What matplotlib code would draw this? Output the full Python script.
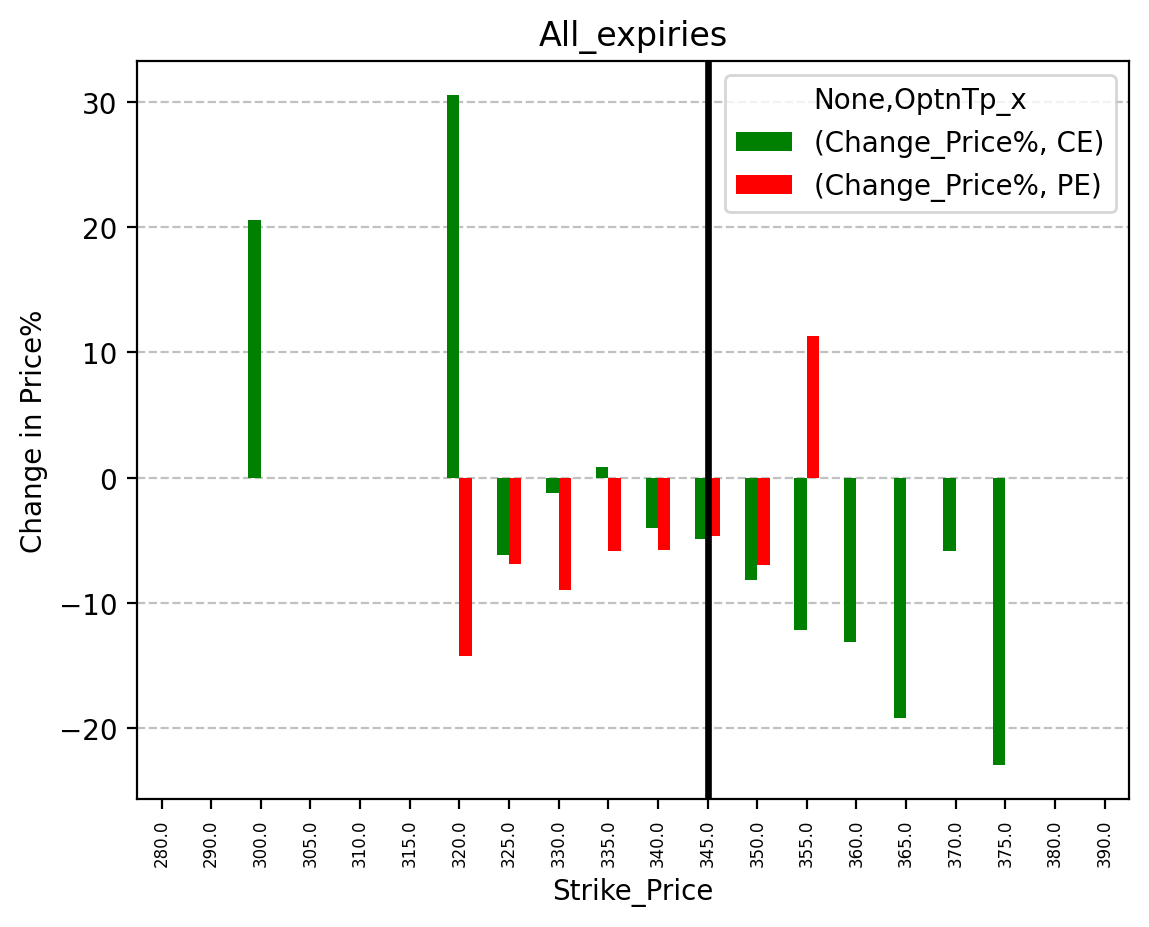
import matplotlib
matplotlib.use("Agg")
import matplotlib.pyplot as plt
import numpy as np
import pandas as pd

nan = np.nan
strikes = [280.0, 290.0, 300.0, 305.0, 310.0, 315.0, 320.0, 325.0, 330.0, 335.0,
           340.0, 345.0, 350.0, 355.0, 360.0, 365.0, 370.0, 375.0, 380.0, 390.0]
ce_change = [nan, nan, 20.6, nan, nan, nan, 30.6, -6.15, -1.2, 0.85,
             -4.0, -4.9, -8.2, -12.2, -13.1, -19.2, -5.85, -23.0, nan, nan]
pe_change = [nan, nan, nan, nan, nan, nan, -14.25, -6.9, -9.0, -5.85,
             -5.75, -4.65, -6.95, 11.35, nan, nan, nan, nan, nan, nan]
spot_strike = 345.0

df = pd.DataFrame(
    {("Change_Price%", "CE"): ce_change, ("Change_Price%", "PE"): pe_change},
    index=pd.Index(strikes, name="Strike_Price"),
)
df.columns.names = [None, "OptnTp_x"]

fig, ax = plt.subplots(figsize=(5.745, 4.64), dpi=200)
fig.subplots_adjust(left=0.119, right=0.983, top=0.933, bottom=0.138)
df.plot(kind="bar", ax=ax, color=["green", "red"], zorder=2)
ax.grid(axis="y", linestyle="--", color="#bbbbbb", alpha=0.9, zorder=0)
ax.set_axisbelow(True)
ax.axvline(strikes.index(spot_strike), color="black", linewidth=2.4, zorder=3)
ax.tick_params(axis="x", labelsize=6, rotation=90)
ax.set_title("All_expiries")
ax.set_xlabel("Strike_Price")
ax.set_ylabel("Change in Price%")
ax.legend(title="None,OptnTp_x", loc="upper right")

fig.savefig("out.png", dpi=200)
